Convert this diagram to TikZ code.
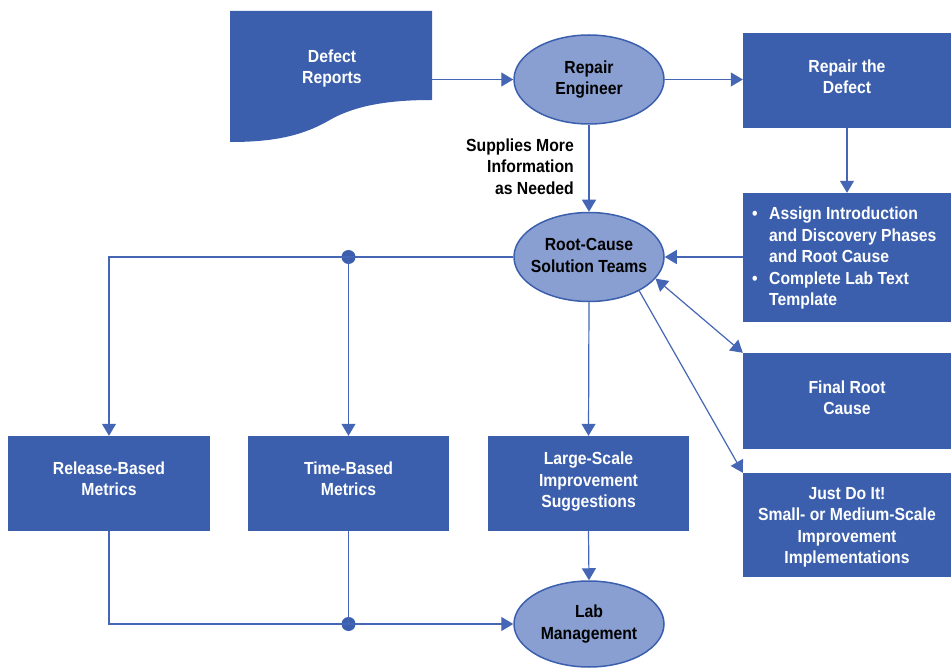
\documentclass[tikz,border=0pt]{standalone}
\usepackage{fontspec}
\setmainfont{Liberation Sans}[FakeStretch=0.9]
\usetikzlibrary{arrows.meta,shapes.geometric}
\definecolor{boxblue}{RGB}{59,95,173}
\definecolor{ovalblue}{RGB}{137,159,210}
\definecolor{linkblue}{RGB}{68,102,180}
% centred stack of lines; the fixed width keeps the oval from growing
\newcommand{\ovaltext}[1]{\makebox[90pt]{\begin{tabular}{@{}c@{}}#1\end{tabular}}}
\tikzset{
  every node/.style={font=\fontsize{17.5}{21.5}\selectfont\bfseries},
  every label/.style={text=white, align=center, inner sep=0pt},
  procbox/.style={rectangle, fill=boxblue, text=white, align=center, inner sep=0pt},
  oval/.style={ellipse, draw=boxblue, line width=1.5pt, fill=ovalblue, text=black,
               align=center, minimum width=150pt, minimum height=89pt, inner sep=0pt},
  link/.style={draw=linkblue, line width=1.2pt},
  arr/.style={link, -{Triangle[length=12pt,width=14pt]}},
  dblarr/.style={link, {Triangle[length=12pt,width=14pt]}-{Triangle[length=12pt,width=14pt]}},
  junction/.style={circle, fill=boxblue, minimum size=14pt, inner sep=0pt},
}
\begin{document}
\begin{tikzpicture}[x=1pt,y=-1pt]
\useasboundingbox (0,0) rectangle (951,668);

% document shape with a wavy lower edge
\fill[boxblue] (230,11) -- (432,11) -- (432,100)
  .. controls (390,100) and (355,105) .. (328,121)
  .. controls (300,137) and (270,142) .. (230,142) -- cycle;
\node[text=white, align=center] (defect) at (332,68.5) {Defect\\Reports};
\coordinate (defectout) at (432,79.5);

% ovals
\node[oval] (repair) at (589,79.5) {\ovaltext{Repair\\Engineer}};
\node[oval] (root) at (589,257) {\ovaltext{Root-Cause\\Solution Teams}};
\node[oval, minimum height=86pt] (lab) at (589,624) {\ovaltext{Lab\\Management}};

% process boxes (their text sits a little off centre)
\node[procbox, minimum width=208pt, minimum height=95pt,
      label={[yshift=4pt]center:{Repair the\\Defect}}] (fix) at (847,80.5) {};
\node[procbox, minimum width=208pt, minimum height=129pt] (assign) at (847,257.5) {};
\node[anchor=west, text=white, align=left, inner sep=0pt] (assigntext) at (750,258)
  {\makebox[19pt][l]{\hspace{2pt}\textbullet}Assign Introduction\\
   \hspace*{19pt}and Discovery Phases\\
   \hspace*{19pt}and Root Cause\\
   \makebox[19pt][l]{\hspace{2pt}\textbullet}Complete Lab Text\\
   \hspace*{19pt}Template};
\node[procbox, minimum width=208pt, minimum height=96pt,
      label={[yshift=3.5pt]center:{Final Root\\Cause}}] (final) at (847,401) {};
\node[procbox, minimum width=208pt, minimum height=104pt,
      label={[yshift=-2.5pt]center:{Just Do It!\\Small- or Medium-Scale\\Improvement\\Implementations}}]
      (just) at (847,525) {};
\node[procbox, minimum width=202pt, minimum height=95pt,
      label={[yshift=5pt]center:{Release-Based\\Metrics}}] (release) at (109,483.5) {};
\node[procbox, minimum width=201pt, minimum height=95pt,
      label={[yshift=5pt]center:{Time-Based\\Metrics}}] (time) at (348.5,483.5) {};
\node[procbox, minimum width=201pt, minimum height=95pt,
      label={[yshift=1.5pt]center:{Large-Scale\\Improvement\\Suggestions}}] (large) at (588.5,483.5) {};

% label beside the downward link
\node[anchor=east, align=right, text=black, inner sep=0pt] (supplies) at (574,166.5)
  {Supplies More\\Information\\as Needed};

% junction dots
\node[junction] (split) at (time.north |- root.west) {};
\node[junction] (merge) at (time.south |- lab.west) {};

% connectors
\draw[arr] (defectout) -- (defectout -| repair.west);
\draw[arr] (repair.east) -- (repair.east -| fix.west);
\draw[arr] (fix.south) -- (assign.north);
\draw[arr] (repair.south) -- (root.north);
\draw[arr] (root.east -| assign.west) -- (root.east);
\draw[dblarr] (root.-18) -- (final.north west);
\draw[arr] (root.-34) -- (just.north west);
\draw[arr] (root.west) -| (release.north);
\draw[arr] (split.center) -- (time.north);
\draw[arr] (root.south) -- (large.north);
\draw[arr] (large.south) -- (lab.north);
\draw[link] (release.south) |- (merge.center);
\draw[link] (time.south) -- (merge.center);
\draw[arr] (merge.center) -- (lab.west);
\end{tikzpicture}
\end{document}
